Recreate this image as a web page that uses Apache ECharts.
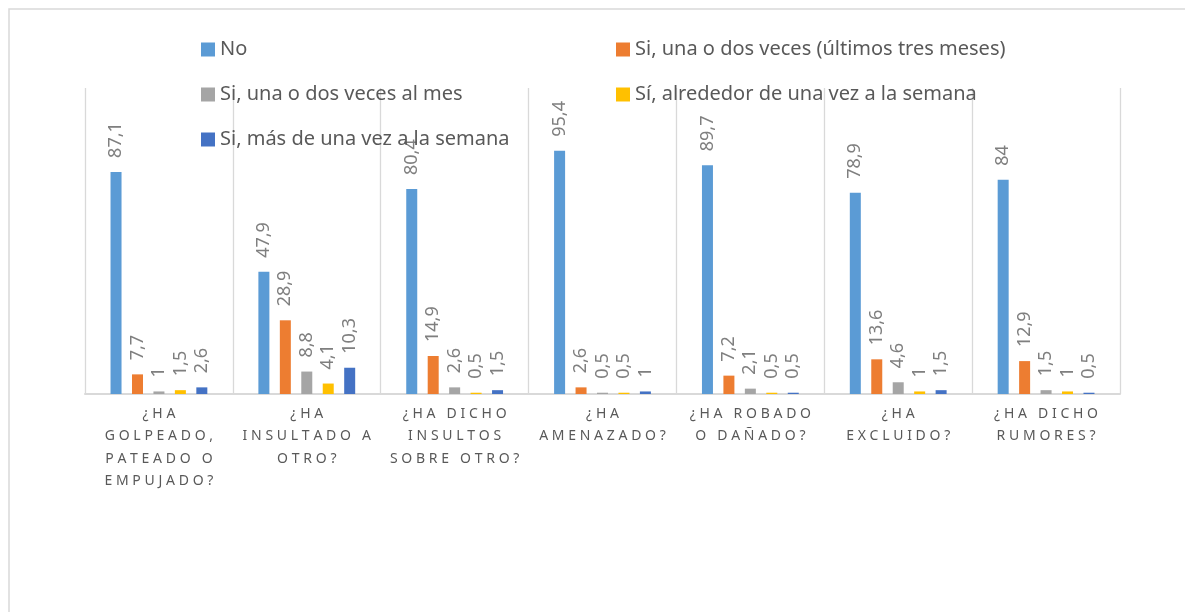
<!DOCTYPE html>
<html>
<head>
<meta charset="utf-8">
<script src="https://cdn.jsdelivr.net/npm/echarts@6/dist/echarts.min.js"></script>
<style>
    html, body { margin: 0; padding: 0; background: #fff; }
    #chart { width: 1185px; height: 612px; }
</style>
</head>
<body>
<div id="chart"></div>
<script>
// preguntas (eje x)
let categorias = [
    '¿HA GOLPEADO, PATEADO O EMPUJADO?',
    '¿HA INSULTADO A OTRO?',
    '¿HA DICHO INSULTOS SOBRE OTRO?',
    '¿HA AMENAZADO?',
    '¿HA ROBADO O DAÑADO?',
    '¿HA EXCLUIDO?',
    '¿HA DICHO RUMORES?'
];

let serieNombres = [
    'No',
    'Si, una o dos veces (últimos tres meses)',
    'Si, una o dos veces al mes',
    'Sí, alrededor de una vez a la semana',
    'Si, más de una vez a la semana'
];

let valNo = [87.1, 47.9, 80.4, 95.4, 89.7, 78.9, 84];
let valTresMeses = [7.7, 28.9, 14.9, 2.6, 7.2, 13.6, 12.9];
let valAlMes = [1, 8.8, 2.6, 0.5, 2.1, 4.6, 1.5];
let valSemana = [1.5, 4.1, 0.5, 0.5, 0.5, 1, 1];
let valMasSemana = [2.6, 10.3, 1.5, 1, 0.5, 1.5, 0.5];

let colores = ['#5B9BD5', '#ED7D31', '#A5A5A5', '#FFC000', '#4472C4'];

let valores = [valNo, valTresMeses, valAlMes, valSemana, valMasSemana];

// partir en lineas como lo hace Excel y separar las letras
function envolver(txt) {
    let palabras = txt.split(' ');
    let lineas = [];
    let actual = '';
    palabras.forEach((p) => {
        if (!actual) {
            actual = p;
        } else if ((actual + ' ' + p).length <= 11) {
            actual += ' ' + p;
        } else {
            lineas.push(actual);
            actual = p;
        }
    });
    if (actual) lineas.push(actual);
    return lineas.map((l) => l.split('').join('\u2009\u200A')).join('\n');
}

let fuente = '"Noto Sans", "Open Sans", sans-serif';

let series = serieNombres.map((nombre, i) => {
    return {
        name: nombre,
        type: 'bar',
        data: valores[i],
        barWidth: 11,
        barGap: '95%',
        itemStyle: { color: colores[i] },
        label: {
            show: true,
            position: 'top',
            rotate: 90,
            align: 'left',
            verticalAlign: 'middle',
            distance: 14,
            color: '#7f7f7f',
            fontSize: 18,
            fontFamily: fuente,
            formatter: (p) => String(p.value).replace('.', ',')
        }
    };
});

let leyendaBase = {
    orient: 'vertical',
    top: 33,
    itemWidth: 14,
    itemHeight: 14,
    itemGap: 22,
    icon: 'rect',
    selectedMode: false,
    textStyle: { color: '#595959', fontSize: 20, fontFamily: fuente, lineHeight: 23 }
};

let chart = echarts.init(document.getElementById('chart'));
chart.setOption({
    animation: false,
    backgroundColor: '#fff',
    graphic: [{
        type: 'rect',
        shape: { x: 9, y: 9, width: 1300, height: 800 },
        style: { fill: null, stroke: '#d9d9d9', lineWidth: 1.5 },
        silent: true
    }],
    legend: [
        Object.assign({}, leyendaBase, {
            left: 196,
            data: [serieNombres[0], serieNombres[2], serieNombres[4]]
        }),
        Object.assign({}, leyendaBase, {
            left: 611,
            data: [serieNombres[1], serieNombres[3]]
        })
    ],
    grid: { left: 85, right: 65, top: 88, bottom: 218 },
    xAxis: {
        type: 'category',
        data: categorias,
        axisTick: { show: false },
        axisLine: { lineStyle: { color: '#d9d9d9', width: 2 } },
        splitLine: { show: true, lineStyle: { color: '#d9d9d9', width: 1.3 } },
        axisLabel: {
            interval: 0,
            margin: 9,
            color: '#595959',
            fontSize: 14,
            lineHeight: 22.3,
            fontFamily: fuente,
            formatter: envolver
        }
    },
    yAxis: {
        type: 'value',
        min: 0,
        max: 120,
        show: false,
        splitLine: { show: false }
    },
    series: series
});
</script>
</body>
</html>
